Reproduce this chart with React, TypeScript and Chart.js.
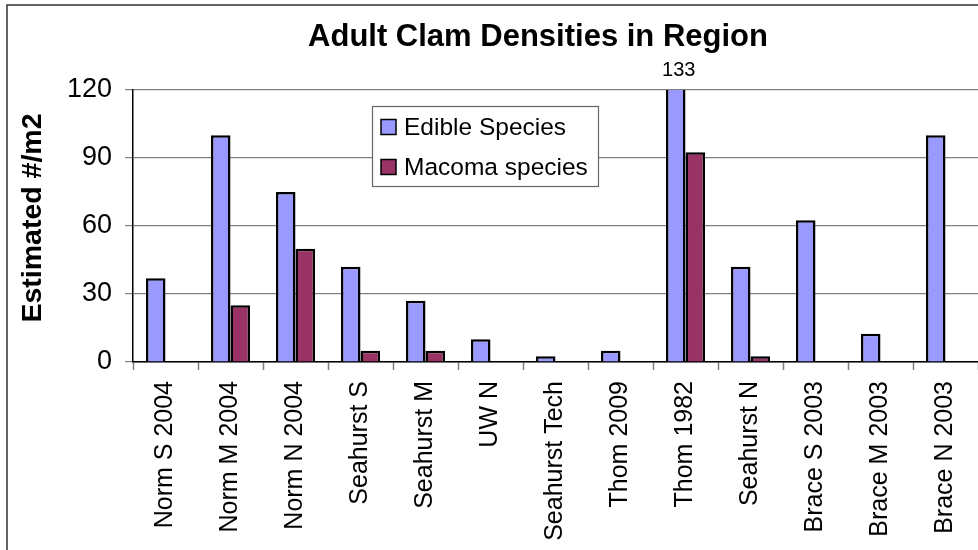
import React, { useEffect, useRef } from 'react';
import { Chart, registerables } from 'chart.js';

Chart.register(...registerables);

const FONT = '"Liberation Sans", Arial, Helvetica, sans-serif';

const chartTitle = 'Adult Clam Densities in Region';
const yAxisTitle = 'Estimated #/m2';
const categories = [
  'Norm S 2004',
  'Norm M 2004',
  'Norm N 2004',
  'Seahurst S',
  'Seahurst M',
  'UW N',
  'Seahurst Tech',
  'Thom 2009',
  'Thom 1982',
  'Seahurst N',
  'Brace S 2003',
  'Brace M 2003',
  'Brace N 2003',
];
const seriesNames = ['Edible Species', 'Macoma species'];
const edibleSpecies = [37, 100, 75, 42, 27, 10, 2.5, 5, 133, 42, 62.5, 12.5, 100];
const macomaSpecies = [null, 25, 50, 5, 5, null, null, null, 92.5, 2.5, null, null, null];
const yMin = 0;
const yMax = 120;
const yStep = 30;

const seriesColors = ['#9999FF', '#993366'];

const decorations = {
  id: 'decorations',
  afterDraw(chart: any) {
    const ctx = chart.ctx;
    ctx.save();
    // outer chart border
    ctx.strokeStyle = '#333';
    ctx.lineWidth = 1.5;
    ctx.strokeRect(7, 5, chart.width + 20, chart.height + 20);

    // title
    ctx.fillStyle = '#000';
    ctx.font = `bold 31px ${FONT}`;
    ctx.textAlign = 'center';
    ctx.textBaseline = 'alphabetic';
    ctx.fillText(chartTitle, 538, 46);

    // y axis title
    ctx.save();
    ctx.translate(33, 218);
    ctx.rotate(-Math.PI / 2);
    ctx.font = `bold 28.5px ${FONT}`;
    ctx.textAlign = 'center';
    ctx.textBaseline = 'middle';
    ctx.fillText(yAxisTitle, 0, 0);
    ctx.restore();

    // values that overflow the axis max
    const yScale = chart.scales.y;
    ctx.font = `20px ${FONT}`;
    ctx.textAlign = 'center';
    chart.data.datasets.forEach((ds: any, di: number) => {
      const meta = chart.getDatasetMeta(di);
      ds.data.forEach((v: any, i: number) => {
        if (v != null && v > yScale.max) {
          const el = meta.data[i];
          ctx.fillText(String(v), el.x + 3, 76);
        }
      });
    });

    // legend
    const lx = 372, ly = 106, lw = 226, lh = 80;
    ctx.fillStyle = '#fff';
    ctx.fillRect(lx, ly, lw, lh);
    ctx.strokeStyle = '#666';
    ctx.lineWidth = 1.2;
    ctx.strokeRect(lx + 0.5, ly + 0.5, lw, lh);
    ctx.font = `24.5px ${FONT}`;
    ctx.textAlign = 'left';
    ctx.textBaseline = 'middle';
    chart.data.datasets.forEach((ds: any, di: number) => {
      const cy = 127 + di * 40;
      ctx.fillStyle = ds.backgroundColor;
      ctx.fillRect(381, cy - 7.5, 15, 15);
      ctx.strokeStyle = '#000';
      ctx.lineWidth = 1.5;
      ctx.strokeRect(381, cy - 7.5, 15, 15);
      ctx.fillStyle = '#000';
      ctx.fillText(ds.label, 404, cy + 1);
    });
    ctx.restore();
  },
};

export default function App() {
  const ref = useRef<HTMLCanvasElement | null>(null);
  useEffect(() => {
    if (!ref.current) return;
    const chart = new Chart(ref.current, {
      type: 'bar',
      data: {
        labels: categories,
        datasets: [
          {
            label: seriesNames[0],
            data: edibleSpecies,
            backgroundColor: seriesColors[0],
            borderColor: '#000',
            borderWidth: 2.5,
            categoryPercentage: 0.6,
            barPercentage: 1.0,
          },
          {
            label: seriesNames[1],
            data: macomaSpecies as any,
            backgroundColor: seriesColors[1],
            borderColor: '#000',
            borderWidth: 2.5,
            categoryPercentage: 0.6,
            barPercentage: 1.0,
          },
        ],
      },
      options: {
        responsive: false,
        animation: false,
        events: [],
        layout: { padding: { top: 90, left: 0, right: 0, bottom: 0 } },
        plugins: {
          legend: { display: false },
          title: { display: false },
          tooltip: { enabled: false },
        },
        scales: {
          x: {
            afterFit: (scale: any) => {
              scale.height = 188;
              scale.paddingLeft = 0;
              scale.paddingRight = 0;
            },
            grid: {
              display: true,
              drawOnChartArea: false,
              drawTicks: true,
              tickLength: 8,
              tickColor: '#808080',
              tickWidth: 1.5,
              offset: true,
            },
            border: { display: true, color: '#000', width: 1.5 },
            ticks: {
              autoSkip: false,
              maxRotation: 90,
              minRotation: 90,
              padding: 11,
              color: '#000',
              font: { family: FONT, size: 25 },
            },
          },
          y: {
            min: yMin,
            max: yMax,
            afterFit: (scale: any) => {
              scale.width = 133;
              scale.paddingTop = 0;
              scale.paddingBottom = 0;
            },
            grid: {
              color: '#808080',
              lineWidth: 1.2,
              tickLength: 8,
              tickColor: '#808080',
            },
            border: { display: true, color: '#000', width: 1.5 },
            ticks: {
              stepSize: yStep,
              padding: 13,
              color: '#000',
              font: { family: FONT, size: 27 },
            },
          },
        },
      },
      plugins: [decorations],
    });
    return () => chart.destroy();
  }, []);
  return (
    <div style={{ position: 'fixed', left: 0, top: 0, width: 978, height: 550, background: '#fff' }}>
      <canvas ref={ref} width={978} height={550} style={{ display: 'block' }} />
    </div>
  );
}
